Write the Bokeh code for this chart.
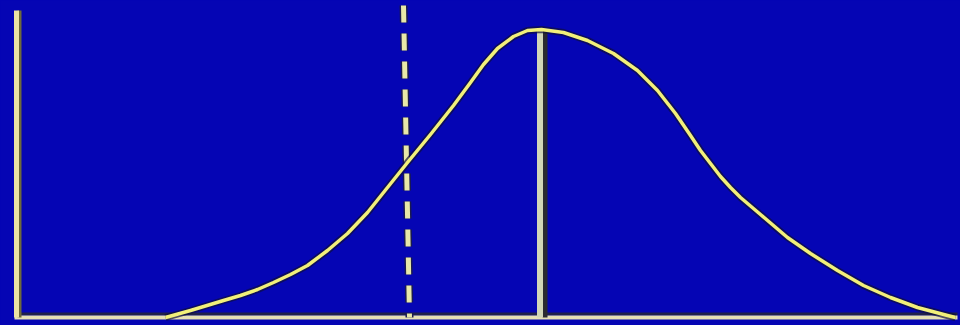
from bokeh.plotting import figure
from bokeh.models import Range1d
from bokeh.embed import file_html
from bokeh.resources import INLINE

# Curve (x: offset from left axis, y: height above baseline)
curve_x = [150, 175, 208, 225, 242, 258, 275, 292, 312, 332, 352, 372, 392, 415,
           438, 455, 468, 482, 498, 512, 526, 548, 572, 598, 622, 642, 660, 675,
           685, 695, 705, 715, 725, 745, 772, 795, 822, 848, 875, 902, 932, 940]
curve_y = [0, 7, 17, 22, 28, 35, 43, 52, 67, 84, 105, 130, 155, 183,
           212, 235, 253, 269, 281, 287, 288, 285, 277, 264, 247, 227, 204, 182,
           167, 154, 141, 130, 120, 103, 80, 64, 47, 32, 20, 10, 2, 0]

axis_x = 1          # left vertical axis position
axis_top = 307      # left axis height
base_end = 942      # baseline extent
peak_x = 524.5      # solid vertical line at the peak
peak_top = 288
dash_x = [388, 394]  # dashed line: top x, bottom x
dash_top = 312

BG = "#0505B4"

p = figure(width=960, height=325, x_range=Range1d(-15, 945), y_range=Range1d(-8, 317),
           toolbar_location=None, output_backend="svg", min_border=0,
           x_axis_location=None, y_axis_location=None,
           background_fill_color=BG, border_fill_color=BG, outline_line_color=None)
p.grid.visible = False

# baseline
p.segment(x0=[axis_x], y0=[3.5], x1=[base_end], y1=[3.5], line_color="#20204a", line_width=3)
p.segment(x0=[axis_x - 2], y0=[0], x1=[base_end], y1=[0], line_color="#E6E0B4", line_width=4)

# left axis
p.segment(x0=[axis_x + 3], y0=[0], x1=[axis_x + 3], y1=[axis_top], line_color="#6E6A3A", line_width=4)
p.segment(x0=[axis_x], y0=[0], x1=[axis_x], y1=[axis_top], line_color="#ECE4A4", line_width=5)

# dashed line
p.segment(x0=[dash_x[0]], y0=[dash_top], x1=[dash_x[1]], y1=[0], line_color="#1a1a50",
          line_width=8, line_dash="17 11")
p.segment(x0=[dash_x[0]], y0=[dash_top], x1=[dash_x[1]], y1=[0], line_color="#E8E8A8",
          line_width=5, line_dash="17 11")

# peak line
p.segment(x0=[peak_x + 5], y0=[0], x1=[peak_x + 5], y1=[peak_top], line_color="#2a2a30", line_width=5)
p.segment(x0=[peak_x], y0=[0], x1=[peak_x], y1=[peak_top], line_color="#D2D6B8", line_width=6)

# curve
p.line(curve_x, curve_y, line_color="#10103a", line_width=7, line_alpha=0.7, line_join="round")
p.line(curve_x, curve_y, line_color="#F2F07A", line_width=3.5, line_join="round")

html = file_html(p, INLINE)
html = html.replace("</head>", "<style>html,body{background:%s;}</style></head>" % BG, 1)
open("out.html", "w").write(html)
